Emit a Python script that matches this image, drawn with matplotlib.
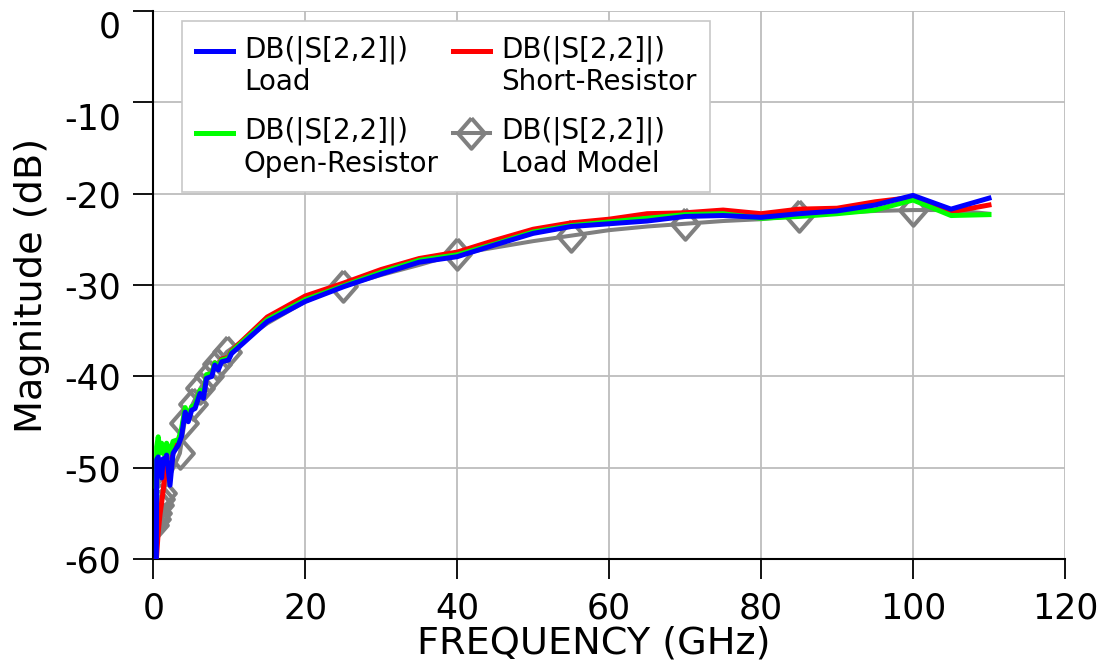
import matplotlib
matplotlib.use("Agg")
import matplotlib.pyplot as plt
from matplotlib.legend_handler import HandlerLine2D

# ---------------- data ----------------
freq_meas = [0.40, 0.45, 0.65, 0.9, 1.1, 1.3, 1.5, 1.75, 2.2, 2.6, 3.3, 3.7, 4.2, 4.6,
             5.05, 5.5, 6.15, 6.6, 7.0, 7.7, 8.1, 8.55, 9.0, 9.9, 10.3,
             15, 20, 25, 30, 35, 40, 45, 50, 55, 60, 65, 70, 75, 80, 85, 90, 95,
             100, 105, 110]

s22_load = [-59.9, -49.1, -48.8, -50.0, -51.1, -49.0, -49.5, -48.6, -51.9, -48.4, -47.5,
            -46.6, -43.9, -44.95, -43.7, -43.5, -41.85, -42.4, -40.2, -40.0, -38.75,
            -39.3, -38.4, -38.2, -37.5,
            -34.0, -31.8, -30.2, -28.8, -27.5, -26.9, -25.6, -24.35, -23.6, -23.3,
            -23.0, -22.5, -22.4, -22.6, -22.2, -21.9, -21.25, -20.2, -21.7, -20.5]

s22_short = [-59.9, -59.5, -57.0, -55.0, -53.8, -52.5, -51.0, -49.8, -50.6, -48.3, -47.2,
             -46.3, -43.6, -44.6, -43.4, -43.2, -41.6, -42.1, -39.9, -39.7, -38.5,
             -39.0, -38.1, -37.9, -37.2,
             -33.5, -31.2, -29.8, -28.3, -27.1, -26.4, -25.1, -23.9, -23.2, -22.8,
             -22.2, -22.1, -21.8, -22.2, -21.7, -21.6, -20.9, -20.4, -22.0, -21.25]

s22_open = [-52.0, -47.7, -46.6, -48.4, -47.3, -48.3, -48.6, -47.3, -48.3, -47.1, -46.9,
            -45.8, -43.4, -44.5, -43.3, -43.1, -41.5, -42.0, -39.8, -39.7, -38.5,
            -39.0, -38.2, -38.0, -37.3,
            -33.8, -31.6, -30.1, -28.6, -27.3, -26.7, -25.5, -24.2, -23.5, -23.1,
            -22.7, -22.3, -22.2, -22.7, -22.5, -22.2, -21.8, -20.7, -22.4, -22.3]

freq_model = [0.1, 0.3, 0.5, 0.7, 0.9, 1.1, 3.5, 4.1, 5.2, 6.2, 7.3, 8.4, 9.7,
              15, 20, 25, 30, 35, 40, 45, 50, 55, 60, 65, 70, 75, 80, 85, 90, 95,
              100, 105, 110]
s22_model = [-56.3, -55.6, -54.9, -54.1, -53.4, -52.8, -48.4, -45.1, -43.0, -41.3, -39.9,
             -38.6, -37.3, -34.2, -31.8, -30.1, -28.9, -27.8, -26.6, -25.9, -25.2, -24.6,
             -24.0, -23.6, -23.3, -23.0, -22.8, -22.4, -22.1, -21.9, -21.8, -21.8,
             -22.2]
model_marked_freqs = [0.1, 0.3, 0.5, 0.7, 0.9, 1.1, 3.5, 4.1, 5.2, 6.2, 7.3, 8.4, 9.7,
                      25, 40, 55, 70, 85, 100]

legend_labels = ["DB(|S[2,2]|)\nLoad", "DB(|S[2,2]|)\nOpen-Resistor",
                 "DB(|S[2,2]|)\nShort-Resistor", "DB(|S[2,2]|)\nLoad Model"]
x_ticks = [0, 20, 40, 60, 80, 100, 120]
y_ticks = [0, -10, -20, -30, -40, -50, -60]

# ---------------- figure ----------------
plt.rcParams['font.family'] = ['DejaVu Sans']
fig = plt.figure(figsize=(11.02, 6.62), dpi=100)
ax = fig.add_axes([0.1391, 0.1551, 0.8273, 0.8287])

diamond = [(0, 1), (0.875, 0), (0, -1), (-0.875, 0), (0, 1)]
mark_idx = [i for i, f in enumerate(freq_model) if f in model_marked_freqs]
l_model, = ax.plot(freq_model, s22_model, color='#808080', lw=2.9, marker=diamond,
                   markersize=22, markerfacecolor='none', markeredgecolor='#808080',
                   markeredgewidth=2.9, markevery=mark_idx, zorder=2)
l_short, = ax.plot(freq_meas, s22_short, color='#ff0000', lw=3.6, zorder=3)
l_open, = ax.plot(freq_meas, s22_open, color='#00ff00', lw=3.6, zorder=4)
l_load, = ax.plot(freq_meas, s22_load, color='#0000ff', lw=3.6, zorder=5)

ax.set_xlim(0, 120)
ax.set_ylim(-60, 0)
ax.set_xticks(x_ticks)
ax.set_yticks(y_ticks)
ax.set_xticklabels([str(t) for t in x_ticks])
ax.set_yticklabels([str(t) for t in y_ticks])
ax.grid(True, color='#bdbdbd', lw=1.3)
ax.set_axisbelow(True)
for s in ['top', 'right']:
    ax.spines[s].set_visible(False)
for s in ['left', 'bottom']:
    ax.spines[s].set_linewidth(1.5)
    ax.spines[s].set_color('black')
ax.tick_params(axis='both', direction='out', length=14.5, width=1.3, labelsize=25)
ax.tick_params(axis='x', pad=9)
ax.tick_params(axis='y', pad=9)
# the two top labels hang below their ticks in the reference
for lbl in ax.get_yticklabels()[:2]:
    lbl.set_verticalalignment('top')

ax.set_xlabel("FREQUENCY (GHz)", fontsize=27.5, va='bottom')
ax.set_ylabel("Magnitude (dB)", fontsize=27.5)
ax.xaxis.set_label_coords(0.483, -0.1854)
ax.yaxis.set_label_coords(-0.113, 0.5)


class FirstLineHandler(HandlerLine2D):
    def create_artists(self, legend, orig_handle, xdescent, ydescent, width,
                       height, fontsize, trans):
        shift = 0.57 * fontsize
        return super().create_artists(legend, orig_handle, xdescent,
                                      ydescent - 2 * shift, width, height,
                                      fontsize, trans)


handler = FirstLineHandler(numpoints=1)
leg = ax.legend([l_load, l_open, l_short, l_model], legend_labels, ncol=2,
                loc='upper left', bbox_to_anchor=(0.0315, 0.981), borderaxespad=0,
                fontsize=20, handlelength=1.33, handletextpad=0.4,
                columnspacing=0.5, labelspacing=0.75, borderpad=0.5,
                fancybox=False, framealpha=1, edgecolor='#c8c8c8',
                handler_map={l_load: handler, l_open: handler, l_short: handler,
                             l_model: handler})
leg.get_frame().set_linewidth(1.2)
leg.set_zorder(10)

fig.savefig("out.png", dpi=100)
